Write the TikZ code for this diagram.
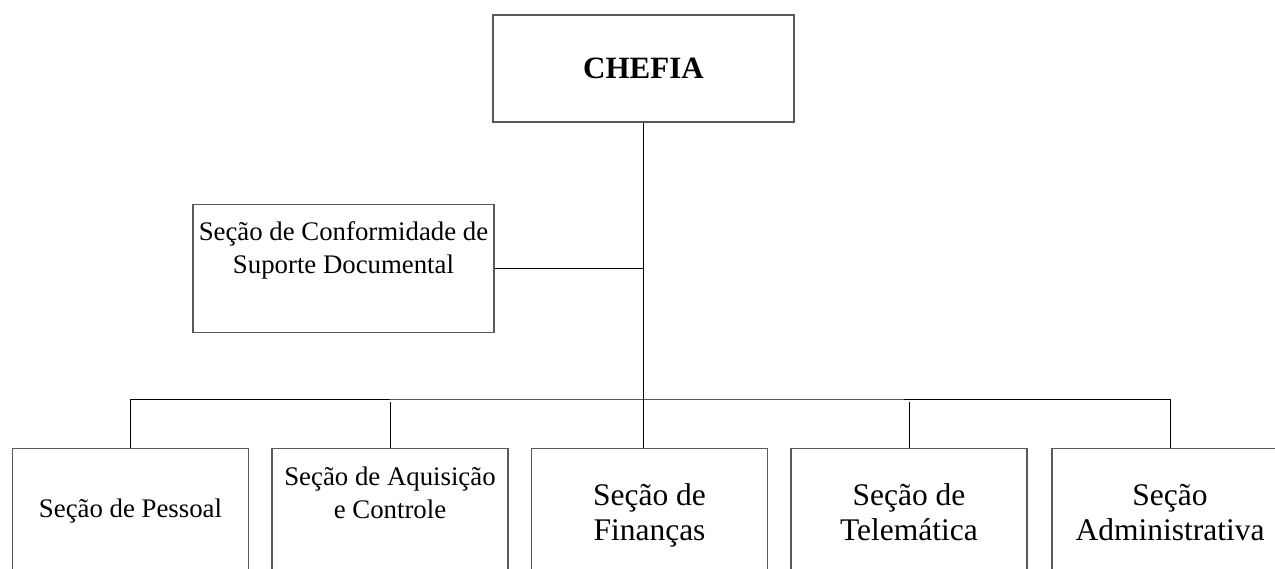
\documentclass[tikz,border=0pt]{standalone}
\usepackage{fontspec}
\setmainfont{Liberation Serif}
\usetikzlibrary{positioning}
\newcommand{\textonormal}{\fontsize{13.4pt}{16.3pt}\selectfont}
\newcommand{\textogrande}{\fontsize{15.75pt}{17.5pt}\selectfont}

\begin{document}
\begin{tikzpicture}[x=0.5pt,y=0.5pt]
			\tikzstyle{every node}+=[inner sep=0pt]
			\tikzstyle{caixa}=[draw=black!65, line width=0.7pt, rectangle]
			\tikzstyle{secao}=[caixa, anchor=north, text width=118pt, align=flush center, text depth=80pt]
			\tikzstyle{ligacao}=[black, line width=0.5pt]
			\useasboundingbox (0,0) rectangle (1275,-568);
			\clip (0,0) rectangle (1275,-568);
			% chefia e secao de conformidade
			\draw (643.5,-68.5) node [caixa, minimum width=150.5pt, minimum height=53.5pt,
				font=\bfseries\fontsize{15.5pt}{18pt}\selectfont] (chefia) {CHEFIA};
			\draw (343.5,-204) node [caixa, anchor=north, text width=150.5pt, align=flush center,
				text height=18pt, text depth=46pt, font=\textonormal] (conformidade)
				{Seção de Conformidade de\\Suporte Documental};
			% secoes subordinadas
			\draw (130.5,-448) node [secao, text height=34.5pt, font=\textonormal] (pessoal) {Seção de Pessoal};
			\draw (390,-448) node [secao, text height=18.5pt, font=\textonormal] (aquisicao) {Seção de Aquisição\\e Controle};
			\draw (649.5,-448) node [secao, text height=28.5pt, font=\textogrande] (financas) {Seção de\\Finanças};
			\draw (909,-448) node [secao, text height=28.5pt, font=\textogrande] (telematica) {Seção de\\Telemática};
			\draw (1170,-448) node [secao, text height=28.5pt, font=\textogrande] (administrativa) {Seção\\Administrativa};
			% ligacoes
			\coordinate (barra) at (643.5,-399);
			\draw [ligacao] (chefia.south) -- (chefia.south |- financas.north);
			\draw [ligacao] (conformidade.east) -- (conformidade.east -| chefia.south);
			\draw [ligacao] (pessoal.north) |- (barra) -| (administrativa.north);
			\draw [ligacao, shorten >=1.5pt] (aquisicao.north) -- (aquisicao.north |- barra);
			\draw [ligacao, shorten >=1.5pt] (telematica.north) -- (telematica.north |- barra);
\end{tikzpicture}
\end{document}
